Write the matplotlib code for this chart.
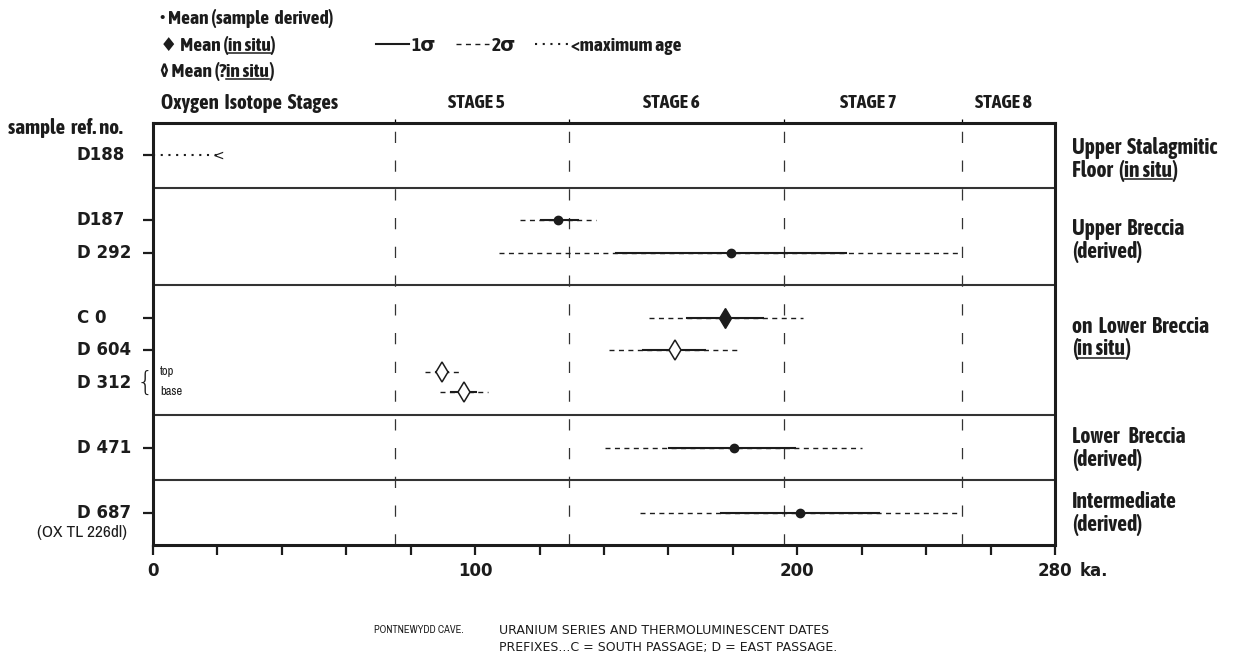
import matplotlib
matplotlib.use('Agg')
import matplotlib.pyplot as plt
import matplotlib.transforms as mtransforms
from matplotlib import font_manager as fm
from matplotlib.lines import Line2D

# sample labels on the left and the rows they sit on
sample_labels = ['D188', 'D187', 'D 292', 'C 0', 'D 604', 'D 312', 'D 471', 'D 687']
label_rows = [1, 3, 4, 6, 7, 8, 10, 12]

# dated points (ka)
point_rows = [3, 4, 6, 7, 7.68, 8.28, 10, 12]
mean = [125.7, 179.4, 177.7, 161.9, 89.6, 96.4, 180.4, 200.8]
s1_lo = [120.5, 143.8, 165.7, 152.0, 88.0, 92.6, 160.2, 176.3]
s1_hi = [131.9, 215.1, 189.3, 171.2, 91.5, 100.4, 199.4, 225.5]
s2_lo = [113.8, 107.4, 153.9, 141.7, 84.3, 89.0, 140.4, 151.1]
s2_hi = [137.6, 250.8, 201.7, 182.0, 95.2, 104.0, 220.2, 250.8]
kind = ['derived', 'derived', 'in situ', '?in situ', '?in situ', '?in situ', 'derived', 'derived']

# D188 maximum age
max_row = 1
max_age = 22

# oxygen isotope stage boundaries
stage_bounds = [75, 129, 196, 251, 280]
stage_names = ['STAGE 5', 'STAGE 6', 'STAGE 7', 'STAGE 8']

# horizontal unit separators and the unit names on the right
unit_bounds = [2, 5, 9, 11]
unit_labels = [
    (1.1, [[('Upper  Stalagmitic', False)], [('Floor  (', False), ('in situ', True), (')', False)]]),
    (3.6, [[('Upper  Breccia', False)], [('(derived)', False)]]),
    (6.6, [[('on  Lower  Breccia', False)], [('(', False), ('in situ', True), (')', False)]]),
    (10.0, [[('Lower   Breccia', False)], [('(derived)', False)]]),
    (12.0, [[('Intermediate', False)], [('(derived)', False)]]),
]

xtick_vals = list(range(0, 281, 20))
xtick_text = {0: '0', 100: '100', 200: '200', 280: '280'}

INK = '#1c1c1c'
plt.rcParams['font.family'] = ['DejaVu Sans']
plt.rcParams['text.color'] = INK


def weight_of(f):
    w = f.weight
    return fm.weight_dict.get(w, 400) if isinstance(w, str) else w


# condensed faces: a regular one for the small print, a bold one for the headings if any
ttf = fm.fontManager.ttflist
narrow = [f for f in ttf if 'Narrow' in f.name or 'Condensed' in f.name]
reg_names = sorted({f.name for f in narrow})
bold_names = sorted({f.name for f in narrow if weight_of(f) >= 600})

if reg_names:
    THIN = dict(family=[reg_names[0], 'DejaVu Sans'])
    fs_thin = dict(small=9, ox=12.5, cave=7.5)
else:
    THIN = dict(family=['DejaVu Sans'])
    fs_thin = dict(small=7.5, ox=9.5, cave=8)

if bold_names:
    BOLD = dict(family=[bold_names[0], 'DejaVu Sans'], fontweight='bold')
    fs = dict(unit=15.5, legend=14, head=15, stage=14, ref=15, sig=14)
else:
    BOLD = dict(family=['DejaVu Sans'], fontweight='bold')
    fs = dict(unit=12, legend=11.5, head=11.5, stage=11, ref=10.5, sig=11.5)

W, H = 1258, 657
fig = plt.figure(figsize=(W / 100, H / 100), dpi=100)
ax = fig.add_axes([153 / W, 1 - 545 / H, (1055 - 153) / W, (545 - 123) / H])
ax.set_xlim(0, 280)
ax.set_ylim(13, 0)
blend = mtransforms.blended_transform_factory(fig.transFigure, ax.transData)

for s in ax.spines.values():
    s.set_linewidth(2.2)
    s.set_color(INK)

ax.set_xticks(xtick_vals)
ax.set_xticklabels([xtick_text.get(t, '') for t in xtick_vals], fontsize=12, fontweight='bold')
ax.tick_params(axis='x', direction='out', length=7, width=1.6, pad=5, colors=INK)
ax.set_xticks(stage_bounds[:-1], minor=True)
ax.tick_params(axis='x', which='minor', bottom=False, top=True, direction='out', length=3, width=0.9)
ax.set_yticks([r for r, l in zip(label_rows, sample_labels) if l != 'D 312'])
ax.set_yticklabels([])
ax.tick_params(axis='y', direction='out', length=7, width=1.6, colors=INK)
fig.text(1080 / W, 1 - 571 / H, 'ka.', fontsize=12, fontweight='bold', va='center')

for yb in unit_bounds:
    ax.axhline(yb, color='#333333', lw=1.5)
for xb in stage_bounds[:-1]:
    ax.axvline(xb, color='#333333', lw=0.9, ls=(0, (9, 14)))

for name, a, b in zip(stage_names, stage_bounds[:-1], stage_bounds[1:]):
    ax.text((a + b) / 2 - 1.5, -0.62, name, ha='center', va='center', fontsize=fs['stage'], **BOLD)
ax.text(2.5, -0.62, 'Oxygen  Isotope  Stages', ha='left', va='center', fontsize=fs['head'], **BOLD)

# error bars and means
for r, m, a1, b1, a2, b2, k in zip(point_rows, mean, s1_lo, s1_hi, s2_lo, s2_hi, kind):
    ax.plot([a2, b2], [r, r], color=INK, lw=1.0, ls=(0, (3.6, 3.2)))
    ax.plot([a1, b1], [r, r], color=INK, lw=1.5)
    if k == 'derived':
        ax.plot(m, r, 'o', ms=6, color=INK)
    elif k == 'in situ':
        ax.plot(m, r, 'd', ms=10, color=INK)
    else:
        ax.plot(m, r, 'd', ms=10, mfc='white', mec=INK, mew=1.1)

ax.plot([0, max_age - 1.8], [max_row, max_row], color=INK, lw=1.5, ls=(0, (1, 2.7)))
ax.text(max_age, max_row, '<', ha='right', va='center', fontsize=10)

# left labels
fig.text(8 / W, 1 - 128 / H, 'sample  ref. no.', fontsize=fs['ref'], va='center', **BOLD)
for lab, r in zip(sample_labels, label_rows):
    fig.text(77 / W, r, lab, transform=blend, ha='left', va='center', fontsize=12, fontweight='bold')
fig.text(37 / W, 12.62, '(OX TL 226dl)', transform=blend, ha='left', va='center', fontsize=fs_thin['ox'],
         **THIN)
fig.text(153 / W, 7.98, '{', transform=blend, ha='right', va='center', fontsize=19, fontweight='light')
ax.text(2.2, 7.65, 'top', va='center', ha='left', fontsize=fs_thin['small'], **THIN)
ax.text(2.2, 8.27, 'base', va='center', ha='left', fontsize=fs_thin['small'], **THIN)

# text pieces chained along one baseline, some underlined
underlined = []


def chain(x, y, parts, transform, **kw):
    prev = fig.text(x, y, parts[0][0], transform=transform, va='baseline', ha='left', **kw)
    if parts[0][1]:
        underlined.append(prev)
    for s, u in parts[1:]:
        prev = ax.annotate(s, xy=(1, 0), xycoords=prev, va='bottom', ha='left',
                           annotation_clip=False, **kw)
        if u:
            underlined.append(prev)


for yc, lines in unit_labels:
    chain(1072 / W, yc - 0.35 + 0.21, lines[0], blend, fontsize=fs['unit'], **BOLD)
    chain(1072 / W, yc + 0.35 + 0.21, lines[1], blend, fontsize=fs['unit'], **BOLD)

# legend
lkw = dict(fontsize=fs['legend'], **BOLD)
chain(160 / W, 1 - 24 / H, [('\u2022 Mean (sample  derived)', False)], fig.transFigure, **lkw)
chain(160 / W, 1 - 51 / H, [('\u2666 Mean (', False), ('in situ', True), (')', False)], fig.transFigure, **lkw)
chain(160 / W, 1 - 77 / H, [('\u25ca Mean (?', False), ('in situ', True), (')', False)], fig.transFigure, **lkw)

handles = [Line2D([], [], color=INK, lw=1.5),
           Line2D([], [], color=INK, lw=1.0, ls=(0, (3.6, 3.2))),
           Line2D([], [], color=INK, lw=1.5, ls=(0, (1, 2.7)))]
fig.legend(handles, ['1\u03c3', '2\u03c3', '<maximum age'], loc='center left',
           bbox_to_anchor=(368 / W, 1 - 46 / H), ncol=3, frameon=False, handlelength=1.7,
           handletextpad=0.15, columnspacing=1.0,
           prop=dict(weight='bold', size=fs['sig'], family=BOLD['family']), borderaxespad=0)

# caption
fig.text(374 / W, 1 - 630 / H, 'PONTNEWYDD CAVE.', fontsize=fs_thin['cave'], va='center', **THIN)
fig.text(499 / W, 1 - 630 / H, 'URANIUM SERIES AND THERMOLUMINESCENT DATES', fontsize=9, va='center')
fig.text(499 / W, 1 - 648 / H, 'PREFIXES...C = SOUTH PASSAGE; D = EAST PASSAGE.', fontsize=9, va='center')

fig.canvas.draw()
rend = fig.canvas.get_renderer()
for t in underlined:
    bb = t.get_window_extent(rend)
    yl = (bb.y0 + 2.5) / H
    fig.add_artist(Line2D([bb.x0 / W, bb.x1 / W], [yl, yl], transform=fig.transFigure, color=INK, lw=1.1))

fig.savefig('out.png', dpi=100, facecolor='white')
